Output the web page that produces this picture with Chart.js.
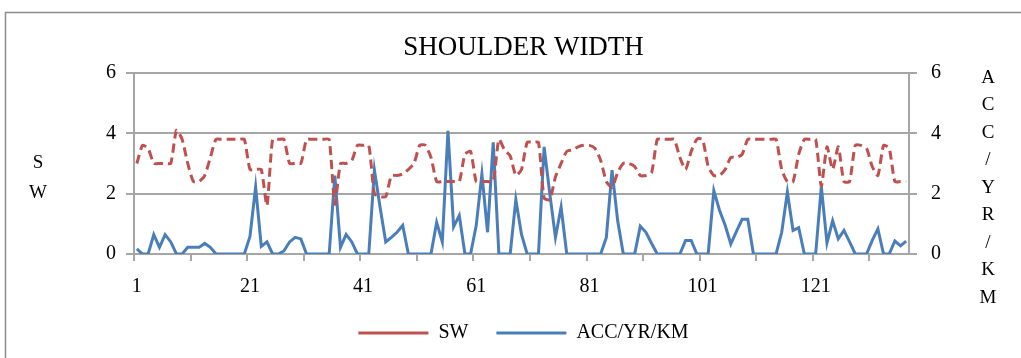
<!DOCTYPE html>
<html>
<head>
<meta charset="utf-8">
<script src="https://cdn.jsdelivr.net/npm/chart.js@4.4.1/dist/chart.umd.min.js"></script>
<style>
  html, body { margin: 0; padding: 0; background: #fff; }
  #wrap { width: 1021px; height: 358px; }
</style>
</head>
<body>
<div id="wrap"><canvas id="chart" width="1021" height="358"></canvas></div>
<script>
// categories 1..137 (road sections)
const CATEGORIES = Array.from({ length: 137 }, (_, i) => String(i + 1));

// shoulder width
const SW = [
  3.0, 3.6, 3.5, 3.0, 3.0, 3.0, 3.0, 4.1, 3.8, 3.0,
  2.4, 2.4, 2.6, 3.2, 3.8, 3.8, 3.8, 3.8, 3.8, 3.8,
  2.8, 2.8, 2.8, 1.6, 3.8, 3.8, 3.8, 3.0, 3.0, 3.0,
  3.8, 3.8, 3.8, 3.8, 3.8, 1.65, 3.0, 3.0, 3.1, 3.6,
  3.6, 3.6, 2.0, 1.9, 1.9, 2.6, 2.6, 2.65, 2.8, 3.0,
  3.6, 3.6, 3.2, 2.4, 2.4, 2.4, 2.4, 2.4, 3.3, 3.4,
  2.4, 2.4, 2.4, 2.4, 3.8, 3.45, 3.25, 2.6, 2.8, 3.7,
  3.7, 3.7, 1.85, 1.8, 2.55, 3.0, 3.4, 3.45, 3.55, 3.6,
  3.6, 3.5, 3.1, 2.4, 2.2, 2.7, 3.0, 3.0, 2.9, 2.6,
  2.6, 2.7, 3.8, 3.8, 3.8, 3.8, 3.2, 2.8, 3.4, 3.8,
  3.8, 2.9, 2.6, 2.6, 2.8, 3.2, 3.2, 3.3, 3.8, 3.8,
  3.8, 3.8, 3.8, 3.8, 2.8, 2.4, 2.4, 3.3, 3.8, 3.8,
  3.8, 2.25, 3.55, 2.8, 3.55, 2.4, 2.4, 3.6, 3.6, 3.5,
  2.9, 2.6, 3.6, 3.5, 2.4, 2.4, 2.4
];

// accidents per year per km
const ACC = [
  0.17, 0, 0, 0.64, 0.22, 0.64, 0.4, 0, 0, 0.22,
  0.22, 0.22, 0.35, 0.22, 0, 0, 0, 0, 0, 0,
  0.58, 2.22, 0.25, 0.4, 0, 0, 0.1, 0.4, 0.55, 0.5,
  0, 0, 0, 0, 0, 2.6, 0.22, 0.65, 0.4, 0,
  0, 0, 2.78, 1.55, 0.4, 0.55, 0.72, 0.95, 0, 0,
  0, 0, 0, 1.05, 0.4, 4.08, 0.9, 1.28, 0, 0,
  0.95, 2.65, 0.72, 3.7, 0, 0, 0, 1.8, 0.65, 0,
  0, 0, 3.55, 2.0, 0.55, 1.55, 0, 0, 0, 0,
  0, 0, 0, 0.55, 2.78, 1.1, 0, 0, 0, 0.92,
  0.72, 0.35, 0, 0, 0, 0, 0, 0.45, 0.45, 0,
  0, 0, 2.1, 1.45, 0.95, 0.33, 0.75, 1.15, 1.15, 0,
  0, 0, 0, 0, 0.72, 2.05, 0.78, 0.87, 0, 0,
  0, 2.23, 0.37, 1.1, 0.5, 0.78, 0.4, 0, 0, 0,
  0.45, 0.83, 0, 0, 0.43, 0.27, 0.43
];

const LEFT_TITLE = ["S", "W"];
const RIGHT_TITLE = ["A", "C", "C", "/", "Y", "R", "/", "K", "M"];

const FONT = "'Liberation Serif', 'Times New Roman', serif";
const GRID = "#a6a6a6";
const RED = "#c0504d";
const BLUE = "#4a7ebb";

// outer chart-area frame like the spreadsheet export
const frame = {
  id: "frame",
  beforeDraw(chart) {
    const c = chart.ctx;
    c.save();
    c.strokeStyle = "#8c8c8c";
    c.lineWidth = 1.5;
    c.strokeRect(5.5, 12.5, 1100, 400);
    c.restore();
  },
};

// stacked letter axis titles
const axisLetters = {
  id: "axisLetters",
  afterDraw(chart) {
    const c = chart.ctx;
    const a = chart.chartArea;
    c.save();
    c.fillStyle = "#000";
    c.font = "19px " + FONT;
    c.textAlign = "center";
    c.textBaseline = "middle";
    LEFT_TITLE.forEach((t, i) => c.fillText(t, a.left - 96, a.top + 90 + i * 30));
    RIGHT_TITLE.forEach((t, i) => c.fillText(t, a.right + 79, a.top + 5 + i * 27.5));
    c.restore();
  },
};

const tickFont = { family: FONT, size: 20 };

new Chart(document.getElementById("chart").getContext("2d"), {
  type: "line",
  data: {
    labels: CATEGORIES,
    datasets: [
      {
        label: "SW",
        data: SW,
        yAxisID: "y",
        borderColor: RED,
        backgroundColor: RED,
        borderWidth: 3,
        borderDash: [9, 5],
        tension: 0.2,
        pointRadius: 0,
        fill: false,
      },
      {
        label: "ACC/YR/KM",
        data: ACC,
        yAxisID: "y1",
        borderColor: BLUE,
        backgroundColor: BLUE,
        borderWidth: 3,
        tension: 0,
        pointRadius: 0,
        fill: false,
      },
    ],
  },
  options: {
    responsive: false,
    animation: false,
    devicePixelRatio: 1,
    layout: { padding: { left: 26, right: 0, top: 0, bottom: 5 } },
    plugins: {
      title: {
        display: true,
        text: "SHOULDER WIDTH",
        color: "#000",
        font: { family: FONT, size: 27, weight: "normal" },
        padding: { top: 32, bottom: 8.5 },
      },
      legend: {
        position: "bottom",
        labels: {
          usePointStyle: true,
          pointStyle: "line",
          pointStyleWidth: 70,
          boxHeight: 20,
          color: "#000",
          font: { family: FONT, size: 20 },
          padding: 28,
        },
      },
      tooltip: { enabled: false },
    },
    scales: {
      x: {
        type: "category",
        offset: true,
        grid: {
          offset: true,
          drawOnChartArea: false,
          tickLength: 7,
          lineWidth: 2,
          color: ctx => (ctx.index % 10 === 0 ? GRID : "rgba(0,0,0,0)"),
        },
        border: { color: GRID, width: 2 },
        ticks: {
          autoSkip: false,
          maxRotation: 0,
          padding: 14,
          color: "#000",
          font: tickFont,
          callback: (v, i) => (i % 20 === 0 ? CATEGORIES[i] : ""),
        },
        afterFit: s => { s.height = 41; },
      },
      y: {
        position: "left",
        min: 0,
        max: 6,
        ticks: { stepSize: 2, padding: 10, color: "#000", font: tickFont },
        grid: { color: GRID, lineWidth: 2, tickLength: 8 },
        border: { color: GRID, width: 2 },
        afterFit: s => { s.width = 108; },
      },
      y1: {
        position: "right",
        min: 0,
        max: 6,
        ticks: { stepSize: 2, padding: 14, color: "#000", font: tickFont },
        grid: { drawOnChartArea: false, color: GRID, lineWidth: 2, tickLength: 8 },
        border: { color: GRID, width: 2 },
        afterFit: s => { s.width = 112; },
      },
    },
  },
  plugins: [frame, axisLetters],
});
</script>
</body>
</html>
